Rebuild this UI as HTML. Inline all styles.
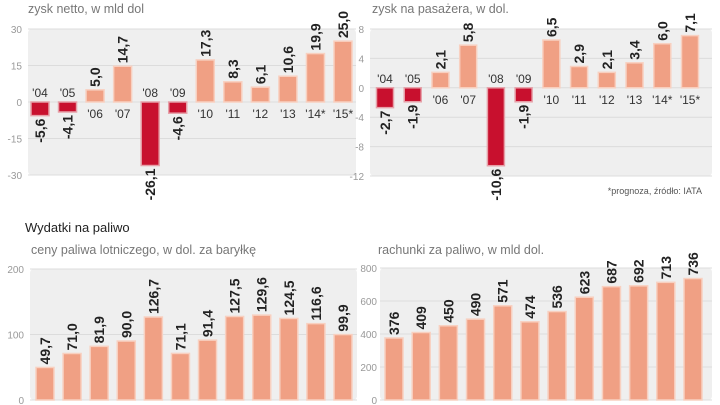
<!DOCTYPE html>
<html><head><meta charset="utf-8"><style>
body{margin:0;width:720px;height:405px;background:#fff;overflow:hidden;font-family:"Liberation Sans",sans-serif}
svg{display:block}
</style></head><body>
<svg id="c" width="720" height="405"></svg>
<script>
const years = ["'04","'05","'06","'07","'08","'09","'10","'11","'12","'13","'14*","'15*"];
const netProfit = [-5.6,-4.1,5.0,14.7,-26.1,-4.6,17.3,8.3,6.1,10.6,19.9,25.0];
const profitPerPassenger = [-2.7,-1.9,2.1,5.8,-10.6,-1.9,6.5,2.9,2.1,3.4,6.0,7.1];
const fuelPrice = [49.7,71.0,81.9,90.0,126.7,71.1,91.4,127.5,129.6,124.5,116.6,99.9];
const fuelBill = [376,409,450,490,571,474,536,623,687,692,713,736];
const ticks1 = [30,15,0,-15,-30];
const ticks2 = [8,4,0,-4,-8,-12];
const ticks3 = [200,100,0];
const ticks4 = [800,600,400,200,0];

const NS="http://www.w3.org/2000/svg";
const svg=document.getElementById('c');
function mk(tag,attrs,parent){const e=document.createElementNS(NS,tag);for(const k in attrs)e.setAttribute(k,attrs[k]);(parent||svg).appendChild(e);return e;}
function txt(s,attrs,parent){const e=mk('text',attrs,parent);e.textContent=s;return e;}

function panel(cfg){
  const g=mk('g',{});
  
  
  const y=v=>cfg.y0-(v-cfg.vmin)*(cfg.y0-cfg.y1)/(cfg.vmax-cfg.vmin);
  const bg=mk('rect',{x:cfg.bx0,y:y(cfg.vmax),width:cfg.bx1-cfg.bx0,height:y(cfg.vmin)-y(cfg.vmax),fill:'#efefef',rx:4},g);
  
  
  cfg.ticks.forEach(t=>{
    const l=mk('line',{x1:cfg.bx0,x2:cfg.bx1,y1:y(t),y2:y(t),stroke:'#dcdcdc','stroke-width':1},g);
    
    
    const tl=txt(String(t),{x:cfg.tx,y:y(t)+4,'font-size':10,fill:'#999','text-anchor':'end'},g);
    
    
  });
  const tt=txt(cfg.title,{x:cfg.titleX,y:cfg.titleY,'font-size':12.5,fill:'#777'},g);
  
  
  const n=cfg.data.length;
  const step=(cfg.c1-cfg.c0)/(n-1);
  cfg.data.forEach((v,i)=>{
    const cx=cfg.c0+i*step, w=cfg.bw;
    const base=y(Math.max(cfg.vmin,0)), top=y(v);
    const neg=v<0;
    const r=mk('rect',{x:cx-w/2,y:Math.min(base,top),width:w,height:Math.abs(top-base),fill:neg?'#c8102e':'#f0a084',stroke:neg?'#e6a0a8':'#f8d0c0','stroke-width':1.5},g);
    
    
    const s=(cfg.dec?v.toFixed(1):String(v)).replace('.',',');
    let ly, anchor;
    if(neg){ly=top+3;anchor='end';}else{ly=top-3;anchor='start';}
    const vl=txt(s,{x:0,y:0,'font-size':14,'font-weight':'bold',fill:'#222','font-family':'"Liberation Sans Narrow","Liberation Sans",sans-serif','text-anchor':anchor,transform:`translate(${cx+5},${ly}) rotate(-90)`},g);
    
    
    if(cfg.yearLabels){
      const yy=neg?y(0)-5:y(0)+16;
      const yl=txt(years[i],{x:cx,y:yy,'font-size':12,fill:'#333','text-anchor':'middle'},g);
      
      
    }
  });
}
panel({name:'net-profit-chart',data:netProfit,vmin:-30,vmax:30,y0:175,y1:29,bx0:28,bx1:356,tx:22,ticks:ticks1,c0:40,c1:343,bw:18,dec:true,yearLabels:true,title:'zysk netto, w mld dol',titleX:28,titleY:13});
panel({name:'profit-per-passenger-chart',data:profitPerPassenger,vmin:-12,vmax:8,y0:176,y1:29,bx0:370,bx1:712,tx:364,ticks:ticks2,c0:385,c1:690,bw:17,dec:true,yearLabels:true,title:'zysk na pasażera, w dol.',titleX:372,titleY:13});
panel({name:'fuel-price-chart',data:fuelPrice,vmin:0,vmax:200,y0:400,y1:269,bx0:30,bx1:357,tx:24,ticks:ticks3,c0:45,c1:343,bw:18,dec:true,yearLabels:false,title:'ceny paliwa lotniczego, w dol. za baryłkę',titleX:31,titleY:254});
panel({name:'fuel-bill-chart',data:fuelBill,vmin:0,vmax:800,y0:400,y1:268,bx0:380,bx1:712,tx:377,ticks:ticks4,c0:394,c1:693,bw:18,dec:false,yearLabels:false,title:'rachunki za paliwo, w mld dol.',titleX:378,titleY:254});
const h=txt('Wydatki na paliwo',{x:25,y:232,'font-size':13,fill:'#222'});


const f=txt('*prognoza, źródło: IATA',{x:702,y:194,'font-size':9,fill:'#555','text-anchor':'end'});


</script>
</body></html>
